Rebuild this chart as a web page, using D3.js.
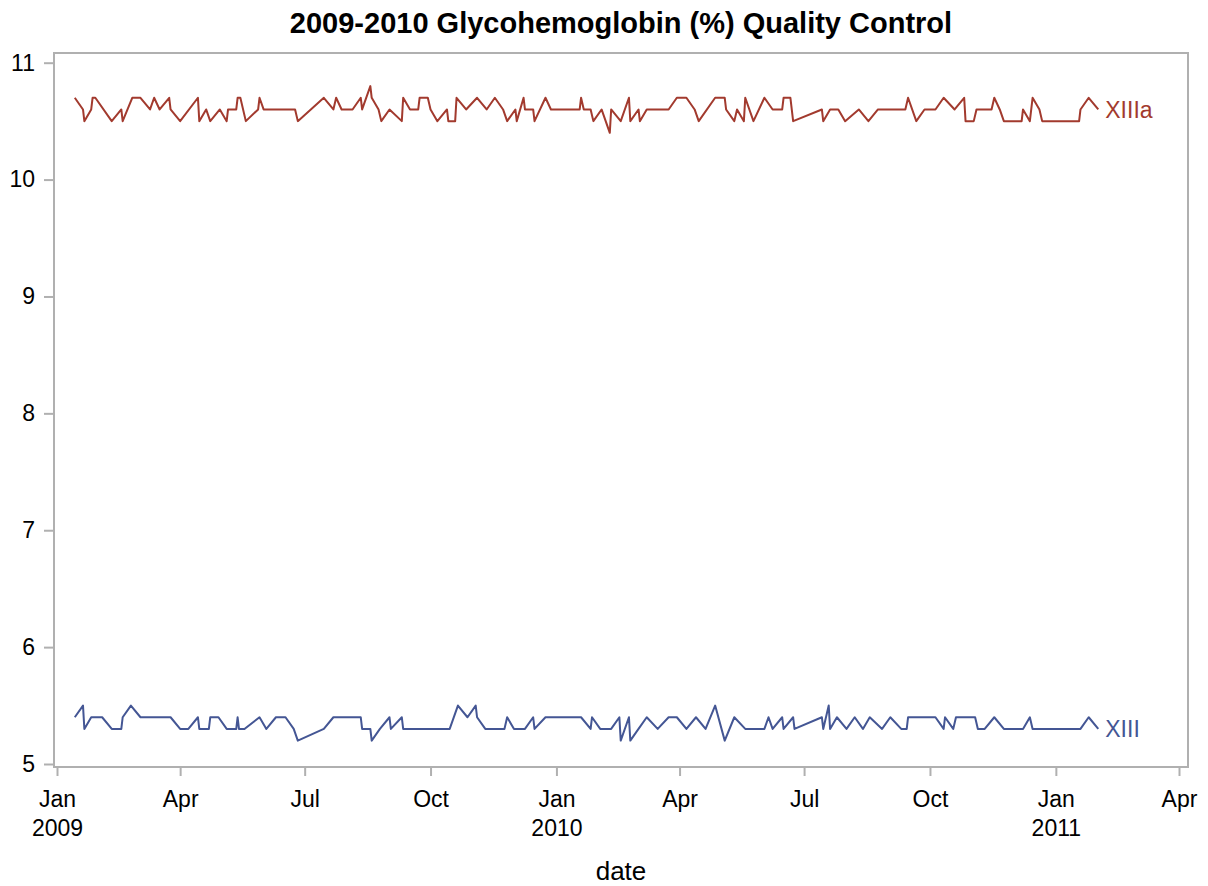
<!DOCTYPE html>
<meta charset="utf-8">
<script src="https://d3js.org/d3.v7.min.js"></script>
<style>
  body { margin: 0; background: #fff; }
  text { font-family: "Liberation Sans", Arial, sans-serif; }
</style>
<div id="vis"></div>
<script type="text/javascript">

// XIIIa control (upper line)
var datesXIIIa = [
  "2009-01-14","2009-01-20","2009-01-21","2009-01-26","2009-01-27","2009-01-29","2009-02-10","2009-02-17",
  "2009-02-18","2009-02-25","2009-03-03","2009-03-10","2009-03-13","2009-03-17","2009-03-24","2009-03-25",
  "2009-04-01","2009-04-14","2009-04-15","2009-04-20","2009-04-23","2009-04-30","2009-05-05","2009-05-06",
  "2009-05-12","2009-05-13","2009-05-15","2009-05-19","2009-05-28","2009-05-29","2009-06-01","2009-06-24",
  "2009-06-26","2009-07-15","2009-07-22","2009-07-24","2009-07-28","2009-08-05","2009-08-11","2009-08-12",
  "2009-08-18","2009-08-19","2009-08-24","2009-08-26","2009-09-01","2009-09-10","2009-09-11","2009-09-16",
  "2009-09-22","2009-09-23","2009-09-29","2009-10-01","2009-10-06","2009-10-13","2009-10-14","2009-10-19",
  "2009-10-20","2009-10-27","2009-11-04","2009-11-11","2009-11-17","2009-11-23","2009-11-26","2009-12-02",
  "2009-12-03","2009-12-08","2009-12-09","2009-12-15","2009-12-16","2009-12-24","2009-12-28","2010-01-18",
  "2010-01-19","2010-01-21","2010-01-26","2010-01-28","2010-02-03","2010-02-09","2010-02-10","2010-02-17",
  "2010-02-23","2010-02-24","2010-03-02","2010-03-03","2010-03-08","2010-03-24","2010-03-30","2010-04-06",
  "2010-04-12","2010-04-15","2010-04-27","2010-05-04","2010-05-05","2010-05-11","2010-05-13","2010-05-18",
  "2010-05-19","2010-05-25","2010-06-02","2010-06-08","2010-06-15","2010-06-16","2010-06-21","2010-06-23",
  "2010-07-14","2010-07-15","2010-07-20","2010-07-26","2010-07-31","2010-08-10","2010-08-17","2010-08-24",
  "2010-09-13","2010-09-15","2010-09-21","2010-09-27","2010-10-05","2010-10-11","2010-10-19","2010-10-26",
  "2010-10-27","2010-11-02","2010-11-04","2010-11-15","2010-11-17","2010-11-21","2010-11-24","2010-12-07",
  "2010-12-08","2010-12-13","2010-12-15","2010-12-20","2010-12-22","2011-01-18","2011-01-19","2011-01-25",
  "2011-02-01"
];
var valuesXIIIa = [
  10.7,10.6,10.5,10.6,10.7,10.7,10.5,10.6,
  10.5,10.7,10.7,10.6,10.7,10.6,10.7,10.6,
  10.5,10.7,10.5,10.6,10.5,10.6,10.5,10.6,
  10.6,10.7,10.7,10.5,10.6,10.7,10.6,10.6,
  10.5,10.7,10.6,10.7,10.6,10.6,10.7,10.6,
  10.8,10.7,10.6,10.5,10.6,10.5,10.7,10.6,
  10.6,10.7,10.7,10.6,10.5,10.6,10.5,10.5,
  10.7,10.6,10.7,10.6,10.7,10.6,10.5,10.6,
  10.5,10.7,10.6,10.6,10.5,10.7,10.6,10.6,
  10.7,10.6,10.6,10.5,10.6,10.4,10.6,10.5,
  10.7,10.5,10.6,10.5,10.6,10.6,10.7,10.7,
  10.6,10.5,10.7,10.7,10.6,10.5,10.6,10.5,
  10.7,10.5,10.7,10.6,10.6,10.7,10.7,10.5,
  10.6,10.5,10.6,10.6,10.5,10.6,10.5,10.6,
  10.6,10.7,10.5,10.6,10.6,10.7,10.6,10.7,
  10.5,10.5,10.6,10.6,10.7,10.6,10.5,10.5,
  10.6,10.5,10.7,10.6,10.5,10.5,10.6,10.7,
  10.6
];

// XIII control (lower line)
var datesXIII = [
  "2009-01-14","2009-01-20","2009-01-21","2009-01-26","2009-02-03","2009-02-10","2009-02-17","2009-02-18",
  "2009-02-24","2009-03-03","2009-03-25","2009-04-01","2009-04-07","2009-04-14","2009-04-15","2009-04-22",
  "2009-04-23","2009-04-29","2009-05-05","2009-05-12","2009-05-13","2009-05-14","2009-05-18","2009-05-29",
  "2009-06-03","2009-06-10","2009-06-17","2009-06-23","2009-06-26","2009-07-15","2009-07-22","2009-08-11",
  "2009-08-12","2009-08-18","2009-08-19","2009-08-25","2009-09-01","2009-09-02","2009-09-10","2009-09-11",
  "2009-10-15","2009-10-21","2009-10-28","2009-11-03","2009-11-04","2009-11-10","2009-11-24","2009-11-26",
  "2009-12-01","2009-12-09","2009-12-15","2009-12-16","2009-12-24","2010-01-19","2010-01-26","2010-01-27",
  "2010-02-02","2010-02-10","2010-02-16","2010-02-17","2010-02-23","2010-02-24","2010-03-02","2010-03-08",
  "2010-03-16","2010-03-24","2010-03-30","2010-04-06","2010-04-13","2010-04-20","2010-04-27","2010-05-04",
  "2010-05-11","2010-05-19","2010-06-02","2010-06-05","2010-06-08","2010-06-15","2010-06-16","2010-06-23",
  "2010-06-24","2010-07-14","2010-07-15","2010-07-19","2010-07-20","2010-07-25","2010-08-01","2010-08-07",
  "2010-08-13","2010-08-18","2010-08-27","2010-09-02","2010-09-10","2010-09-14","2010-09-15","2010-10-05",
  "2010-10-11","2010-10-12","2010-10-18","2010-10-20","2010-11-03","2010-11-05","2010-11-10","2010-11-17",
  "2010-11-24","2010-12-08","2010-12-13","2010-12-15","2011-01-19","2011-01-25","2011-02-01"
];
var valuesXIII = [
  5.4,5.5,5.3,5.4,5.4,5.3,5.3,5.4,
  5.5,5.4,5.4,5.3,5.3,5.4,5.3,5.3,
  5.4,5.4,5.3,5.3,5.4,5.3,5.3,5.4,
  5.3,5.4,5.4,5.3,5.2,5.3,5.4,5.4,
  5.3,5.3,5.2,5.3,5.4,5.3,5.4,5.3,
  5.3,5.5,5.4,5.5,5.4,5.3,5.3,5.4,
  5.3,5.3,5.4,5.3,5.4,5.4,5.3,5.4,
  5.3,5.3,5.4,5.2,5.4,5.2,5.3,5.4,
  5.3,5.4,5.4,5.3,5.4,5.3,5.5,5.2,
  5.4,5.3,5.3,5.4,5.3,5.4,5.3,5.4,
  5.3,5.4,5.3,5.5,5.3,5.4,5.3,5.4,
  5.3,5.4,5.3,5.4,5.3,5.3,5.4,5.4,
  5.3,5.4,5.3,5.4,5.4,5.3,5.3,5.4,
  5.3,5.3,5.4,5.3,5.3,5.4,5.3
];

var yTicks = [5, 6, 7, 8, 9, 10, 11];
var xTicks = ["2009-01-01","2009-04-01","2009-07-01","2009-10-01","2010-01-01","2010-04-01",
              "2010-07-01","2010-10-01","2011-01-01","2011-04-01"];

var title = "2009-2010 Glycohemoglobin (%) Quality Control";
var xLabel = "date";

var W = 1208, H = 886;
var frame = {left: 54, right: 1188, top: 53, bottom: 767};
var colXIIIa = "#A23A2E", colXIII = "#445694", axisCol = "#B0B0B0";

var parse = d3.utcParse("%Y-%m-%d");

var svg = d3.select("#vis").append("svg")
  .attr("width", W)
  .attr("height", H);

var x = d3.scaleUtc()
  .domain([parse("2009-01-01"), parse("2011-04-01")])
  .range([57, 1179]);

var y = d3.scaleLinear()
  .domain([5, 11])
  .range([764, 62.7]);

// title
svg.append("text")
  .attr("x", (frame.left + frame.right) / 2)
  .attr("y", 33)
  .attr("text-anchor", "middle")
  .style("font-size", "29px")
  .style("font-weight", "bold")
  .text(title);

// frame
svg.append("rect")
  .attr("x", frame.left)
  .attr("y", frame.top)
  .attr("width", frame.right - frame.left)
  .attr("height", frame.bottom - frame.top)
  .attr("fill", "none")
  .attr("stroke", axisCol)
  .attr("stroke-width", 2);

// y axis
var yAxis = svg.append("g")
  .attr("transform", "translate(" + frame.left + ",0)")
  .call(d3.axisLeft(y).tickValues(yTicks).tickSize(10).tickPadding(9).tickFormat(d3.format("d")));
yAxis.select(".domain").remove();
yAxis.selectAll(".tick line").attr("stroke", axisCol).attr("stroke-width", 2);
yAxis.selectAll(".tick text").style("font-size", "23px").attr("fill", "#000").attr("font-family", null);

// x axis
var monthFmt = d3.utcFormat("%b"), yearFmt = d3.utcFormat("%Y");
var xAxis = svg.append("g")
  .attr("transform", "translate(0," + frame.bottom + ")")
  .call(d3.axisBottom(x).tickValues(xTicks.map(parse)).tickSize(9).tickFormat(""));
xAxis.select(".domain").remove();
xAxis.selectAll(".tick line").attr("stroke", axisCol).attr("stroke-width", 2);
xAxis.selectAll(".tick").each(function(d) {
  var t = d3.select(this).append("text")
    .attr("fill", "#000")
    .attr("text-anchor", "middle")
    .style("font-size", "23px");
  t.append("tspan").attr("x", 0).attr("y", 40).text(monthFmt(d));
  if (d.getUTCMonth() === 0)
    t.append("tspan").attr("x", 0).attr("y", 69).text(yearFmt(d));
});

svg.append("text")
  .attr("x", (frame.left + frame.right) / 2)
  .attr("y", 880)
  .attr("text-anchor", "middle")
  .style("font-size", "26px")
  .text(xLabel);

// series
var series = [
  {name: "XIIIa", dates: datesXIIIa, values: valuesXIIIa, color: colXIIIa},
  {name: "XIII", dates: datesXIII, values: valuesXIII, color: colXIII}
];

var line = d3.line()
  .x(function(d) { return x(d.date); })
  .y(function(d) { return y(d.value); });

series.forEach(function(s) {
  var pts = s.dates.map(function(dt, i) { return {date: parse(dt), value: s.values[i]}; });
  svg.append("path")
    .datum(pts)
    .attr("fill", "none")
    .attr("stroke", s.color)
    .attr("stroke-width", 2)
    .attr("stroke-linejoin", "round")
    .attr("d", line);
  var last = pts[pts.length - 1];
  svg.append("text")
    .attr("x", x(last.date) + 7)
    .attr("y", y(last.value))
    .attr("dy", "0.36em")
    .attr("fill", s.color)
    .style("font-size", "23px")
    .text(s.name);
});

</script>
